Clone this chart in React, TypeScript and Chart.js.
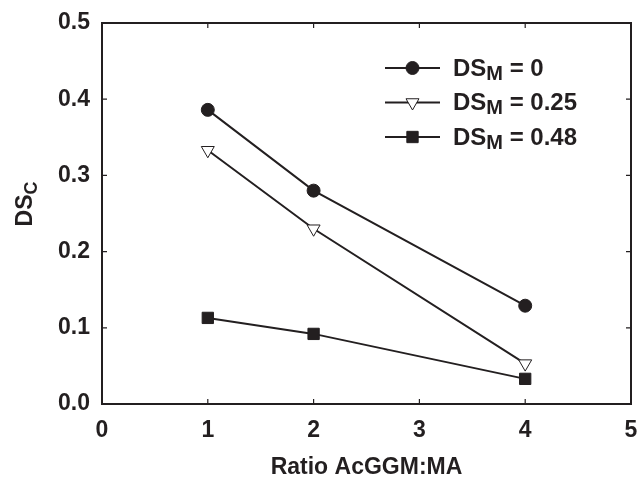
import React, { useEffect, useRef } from "react";
import { Chart, registerables } from "chart.js";
import { drawPoint } from "chart.js/helpers";

Chart.register(...registerables);

// ---- data ----
const ratios = [1, 2, 4];
const dsM0 = [0.386, 0.28, 0.129];
const dsM025 = [0.333, 0.23, 0.053];
const dsM048 = [0.113, 0.092, 0.033];
const seriesSubs = ["M", "M", "M"];
const seriesValues = ["0", "0.25", "0.48"];
const xTickValues = [0, 1, 2, 3, 4, 5];
const yTickValues = [0, 0.1, 0.2, 0.3, 0.4, 0.5];
const xTitle = "Ratio AcGGM:MA";
const yTitleMain = "DS";
const yTitleSub = "C";

const INK = "#231f20";
const FONT = "'Liberation Sans', Arial, Helvetica, sans-serif";

const pointStyles = [
  { pointStyle: "circle", radius: 6.5, rotation: 0, bg: INK, borderWidth: 1 },
  { pointStyle: "triangle", radius: 7.5, rotation: 180, bg: "#ffffff", borderWidth: 1 },
  { pointStyle: "rect", radius: 8, rotation: 0, bg: INK, borderWidth: 1 },
];

const decorPlugin = {
  id: "decor",
  beforeDatasetsDraw(chart: any) {
    const { ctx, chartArea } = chart;
    const { left, right, top, bottom } = chartArea;
    ctx.save();
    ctx.strokeStyle = INK;
    ctx.lineWidth = 2;
    ctx.strokeRect(left, top, right - left, bottom - top);
    const xs = chart.scales.x;
    const ys = chart.scales.y;
    const tl = 5;
    ctx.lineWidth = 1.2;
    ctx.beginPath();
    xTickValues.forEach((v) => {
      const px = xs.getPixelForValue(v);
      ctx.moveTo(px, bottom);
      ctx.lineTo(px, bottom - tl);
      ctx.moveTo(px, top);
      ctx.lineTo(px, top + tl);
    });
    yTickValues.forEach((v) => {
      const py = ys.getPixelForValue(v);
      ctx.moveTo(left, py);
      ctx.lineTo(left + tl, py);
      ctx.moveTo(right, py);
      ctx.lineTo(right - tl, py);
    });
    ctx.stroke();
    ctx.restore();
  },
  afterDraw(chart: any) {
    const { ctx } = chart;
    ctx.save();
    ctx.fillStyle = INK;
    // y title with subscript
    ctx.translate(32, 204);
    ctx.rotate(-Math.PI / 2);
    ctx.font = `bold 23px ${FONT}`;
    const wMain = ctx.measureText(yTitleMain).width;
    ctx.font = `bold 18px ${FONT}`;
    const wSub = ctx.measureText(yTitleSub).width;
    const x0 = -(wMain + wSub) / 2;
    ctx.textBaseline = "alphabetic";
    ctx.textAlign = "left";
    ctx.font = `bold 23px ${FONT}`;
    ctx.fillText(yTitleMain, x0, 0);
    ctx.font = `bold 18px ${FONT}`;
    ctx.fillText(yTitleSub, x0 + wMain, 5);
    ctx.restore();

    // legend
    ctx.save();
    const rowY0 = 68;
    const rowGap = 34.5;
    chart.data.datasets.forEach((ds: any, i: number) => {
      const y = rowY0 + i * rowGap;
      ctx.strokeStyle = INK;
      ctx.lineWidth = 2;
      ctx.beginPath();
      ctx.moveTo(385, y);
      ctx.lineTo(440, y);
      ctx.stroke();
      const ps = pointStyles[i];
      ctx.fillStyle = ps.bg;
      ctx.strokeStyle = INK;
      ctx.lineWidth = ps.borderWidth;
      drawPoint(ctx, { pointStyle: ps.pointStyle, radius: ps.radius, rotation: ps.rotation, borderWidth: ps.borderWidth } as any, 412.5, y);
      ctx.fillStyle = INK;
      ctx.textBaseline = "alphabetic";
      ctx.textAlign = "left";
      const base = y + 7.5;
      let tx = 453;
      ctx.font = `bold 24px ${FONT}`;
      ctx.fillText("DS", tx, base);
      tx += ctx.measureText("DS").width;
      ctx.font = `bold 20px ${FONT}`;
      ctx.fillText(seriesSubs[i], tx, base + 4);
      tx += ctx.measureText(seriesSubs[i]).width;
      ctx.font = `bold 24px ${FONT}`;
      ctx.fillText(" = " + seriesValues[i], tx, base);
    });
    ctx.restore();
  },
};

export default function App() {
  const ref = useRef<HTMLCanvasElement | null>(null);
  useEffect(() => {
    if (!ref.current) return;
    const series = [dsM0, dsM025, dsM048];
    const chart = new Chart(ref.current, {
      type: "line",
      data: {
        datasets: series.map((vals, i) => ({
          label: "DS" + seriesSubs[i] + " = " + seriesValues[i],
          data: ratios.map((r, k) => ({ x: r, y: vals[k] })),
          borderColor: INK,
          borderWidth: 2,
          backgroundColor: pointStyles[i].bg,
          pointBackgroundColor: pointStyles[i].bg,
          pointBorderColor: INK,
          pointBorderWidth: pointStyles[i].borderWidth,
          pointStyle: pointStyles[i].pointStyle as any,
          pointRadius: pointStyles[i].radius,
          pointRotation: pointStyles[i].rotation,
          tension: 0,
          fill: false,
          order: 2 - i,
        })),
      },
      options: {
        animation: false,
        responsive: false,
        devicePixelRatio: 1,
        layout: { padding: { top: 23, right: 0, left: 0, bottom: 0 } },
        plugins: { legend: { display: false }, tooltip: { enabled: false } },
        scales: {
          x: {
            type: "linear",
            min: 0,
            max: 5,
            afterBuildTicks: (s: any) => {
              s.ticks = xTickValues.map((v) => ({ value: v }));
            },
            grid: { display: false, drawTicks: false },
            border: { display: false },
            ticks: {
              color: INK,
              font: { family: FONT, size: 23, weight: "bold" },
              padding: 13,
              maxRotation: 0,
              callback: (v: any) => String(v),
            },
            title: {
              display: true,
              text: xTitle,
              color: INK,
              font: { family: FONT, size: 23, weight: "bold" },
              padding: { top: 0, bottom: 0 },
            },
            afterFit: (s: any) => {
              s.height = 77;
              s.paddingLeft = 0;
              s.paddingRight = 8;
            },
          },
          y: {
            type: "linear",
            min: 0,
            max: 0.5,
            afterBuildTicks: (s: any) => {
              s.ticks = yTickValues.map((v) => ({ value: v }));
            },
            grid: { display: false, drawTicks: false },
            border: { display: false },
            ticks: {
              color: INK,
              font: { family: FONT, size: 23, weight: "bold" },
              padding: 12,
              callback: (v: any) => Number(v).toFixed(1),
            },
            afterFit: (s: any) => {
              s.width = 102;
              s.paddingTop = 0;
              s.paddingBottom = 0;
            },
          },
        },
      },
      plugins: [decorPlugin],
    });
    return () => chart.destroy();
  }, []);
  return (
    <div style={{ position: "absolute", left: 0, top: 0, width: 640, height: 481, background: "#fff" }}>
      <canvas ref={ref} width={640} height={481} style={{ display: "block" }} />
    </div>
  );
}
